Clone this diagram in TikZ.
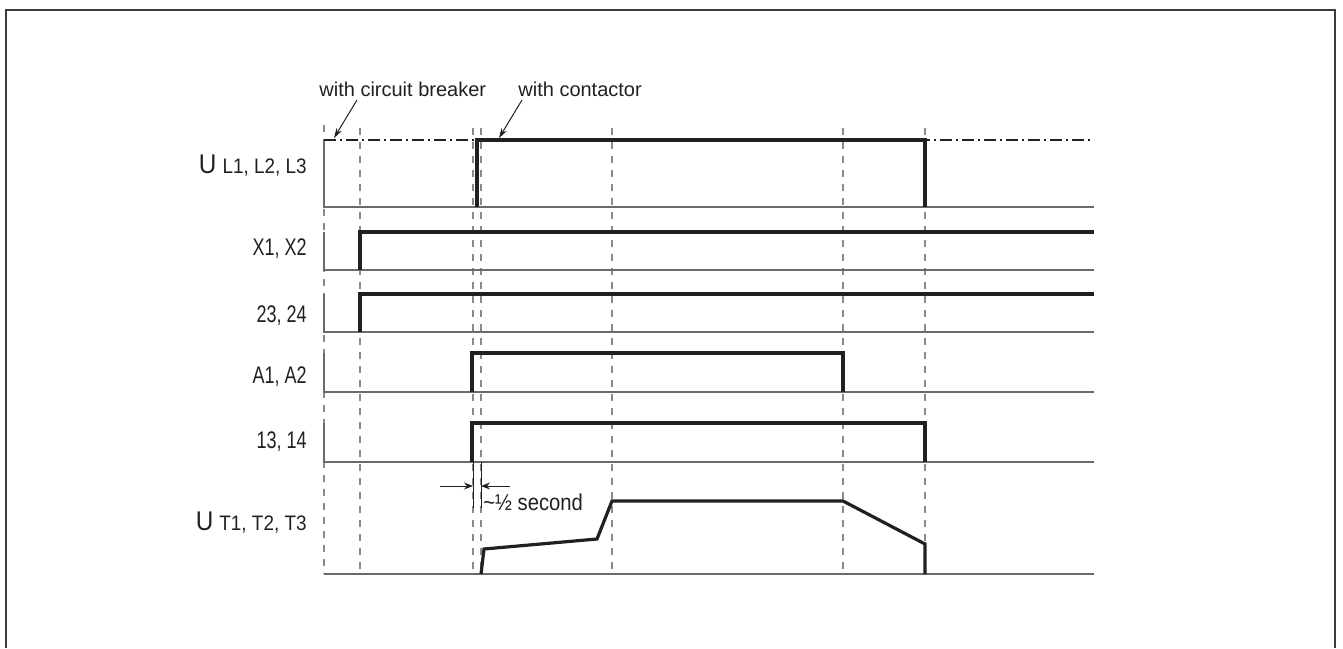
\documentclass[tikz,border=0pt]{standalone}
\usepackage{fontspec}
\setmainfont{Liberation Sans}
\usepackage{graphicx}
\usetikzlibrary{arrows.meta, positioning}
\usepackage{xcolor}
\definecolor{TraceBlack}{HTML}{231F20}
\definecolor{GridGray}{HTML}{8A8A8A}
\definecolor{AxisGray}{HTML}{6A6A6A}
\definecolor{FrameGray}{HTML}{3C3C3C}
\newcommand{\narrow}[2]{\scalebox{#1}[1]{#2}}

\begin{document}
\begin{tikzpicture}[x=0.5pt, y=-0.5pt,
    tracepath/.style={line width=1.6pt, TraceBlack, line join=miter},
    axisline/.style={line width=0.7pt, AxisGray},
    gridline/.style={line width=0.55pt, GridGray, dash pattern=on 3.5pt off 3.5pt},
    mainsline/.style={line width=0.6pt, TraceBlack, dash pattern=on 6pt off 2pt on 1pt off 2pt},
    siglabel/.style={anchor=base east, inner sep=0pt, font=\fontsize{12}{14}\selectfont, TraceBlack},
    note/.style={anchor=base west, inner sep=0pt, font=\fontsize{10}{12}\selectfont, TraceBlack},
    leader/.style={-{Stealth[length=5pt, width=3pt]}, line width=0.5pt, TraceBlack},
    dimarrow/.style={-{Stealth[length=4.5pt, width=3.5pt]}, line width=0.5pt, TraceBlack}]
  \useasboundingbox (0,0) rectangle (1343,648);

  % Frame
  \draw[line width=1.1pt, FrameGray] (6,648) -- (6,10) -- (1335,10) -- (1335,648);

  % Time marks
  \draw[gridline] (324,125) -- (324,574);
  \draw[gridline] (360,128) -- (360,574);
  \draw[gridline] (473,128) -- (473,574);
  \draw[gridline] (481,128) -- (481,574);
  \draw[gridline] (612,128) -- (612,574);
  \draw[gridline] (843,128) -- (843,574);
  \draw[gridline] (925,128) -- (925,574);

  % Signal names
  \node[siglabel] (ul) at (307,173) {\narrow{0.9}{{\fontsize{13.5}{15}\selectfont U} {\fontsize{10.5}{12}\selectfont L1, L2, L3}}};
  \node[siglabel] (x12) at (307,255) {\narrow{0.75}{X1, X2}};
  \node[siglabel] (c2324) at (307,322) {\narrow{0.75}{23, 24}};
  \node[siglabel] (a12) at (307,383) {\narrow{0.75}{A1, A2}};
  \node[siglabel] (c1314) at (307,448) {\narrow{0.75}{13, 14}};
  \node[siglabel] (ut) at (307,530) {\narrow{0.9}{{\fontsize{13.5}{15}\selectfont U} {\fontsize{10.5}{12}\selectfont T1, T2, T3}}};

  % Row axes
  \draw[axisline] (324,140) -- (324,207) -- (1094,207);
  \draw[axisline] (324,232) -- (324,270) -- (1094,270);
  \draw[axisline] (324,294) -- (324,332) -- (1094,332);
  \draw[axisline] (324,353) -- (324,392) -- (1094,392);
  \draw[axisline] (324,423) -- (324,462) -- (1094,462);
  \draw[axisline] (324,574) -- (1094,574);

  % Mains voltage
  \draw[mainsline] (324,140) -- (1094,140);
  \draw[tracepath] (477,207) -- (477,140) -- (925,140) -- (925,207);

  % Control and relay contacts
  \draw[tracepath] (360,270) -- (360,232) -- (1094,232);
  \draw[tracepath] (360,332) -- (360,294) -- (1094,294);
  \draw[tracepath] (472,392) -- (472,353) -- (843,353) -- (843,392);
  \draw[tracepath] (472,462) -- (472,423) -- (925,423) -- (925,462);

  % Motor voltage
  \draw[tracepath] (481,574) -- (484,549) -- (597,539) -- (612,501) -- (843,501) -- (925,544) -- (925,574);

  % Notes
  \node[note] (cb) at (319,96) {with circuit breaker};
  \node[note] (ct) at (518,96) {with contactor};
  \coordinate (cbfoot) at (357,100);
  \coordinate (cbtip) at (334,138);
  \coordinate (ctfoot) at (522,100);
  \coordinate (cttip) at (499,138);
  \draw[leader] (cbfoot) -- (cbtip);
  \draw[leader] (ctfoot) -- (cttip);

  % Delay
  \draw[line width=0.5pt, TraceBlack] (473,462) -- (473,508);
  \draw[line width=0.5pt, TraceBlack] (481,462) -- (481,508);
  \coordinate (dl) at (440,486);
  \coordinate (dr) at (510,486);
  \draw[dimarrow] (dl) -- (473,486);
  \draw[dimarrow] (dr) -- (481,486);
  \node[anchor=base west, inner sep=0pt, font=\fontsize{11.5}{13}\selectfont, TraceBlack] (dt) at (483,510) {\narrow{0.88}{\textasciitilde½ second}};
\end{tikzpicture}
\end{document}
